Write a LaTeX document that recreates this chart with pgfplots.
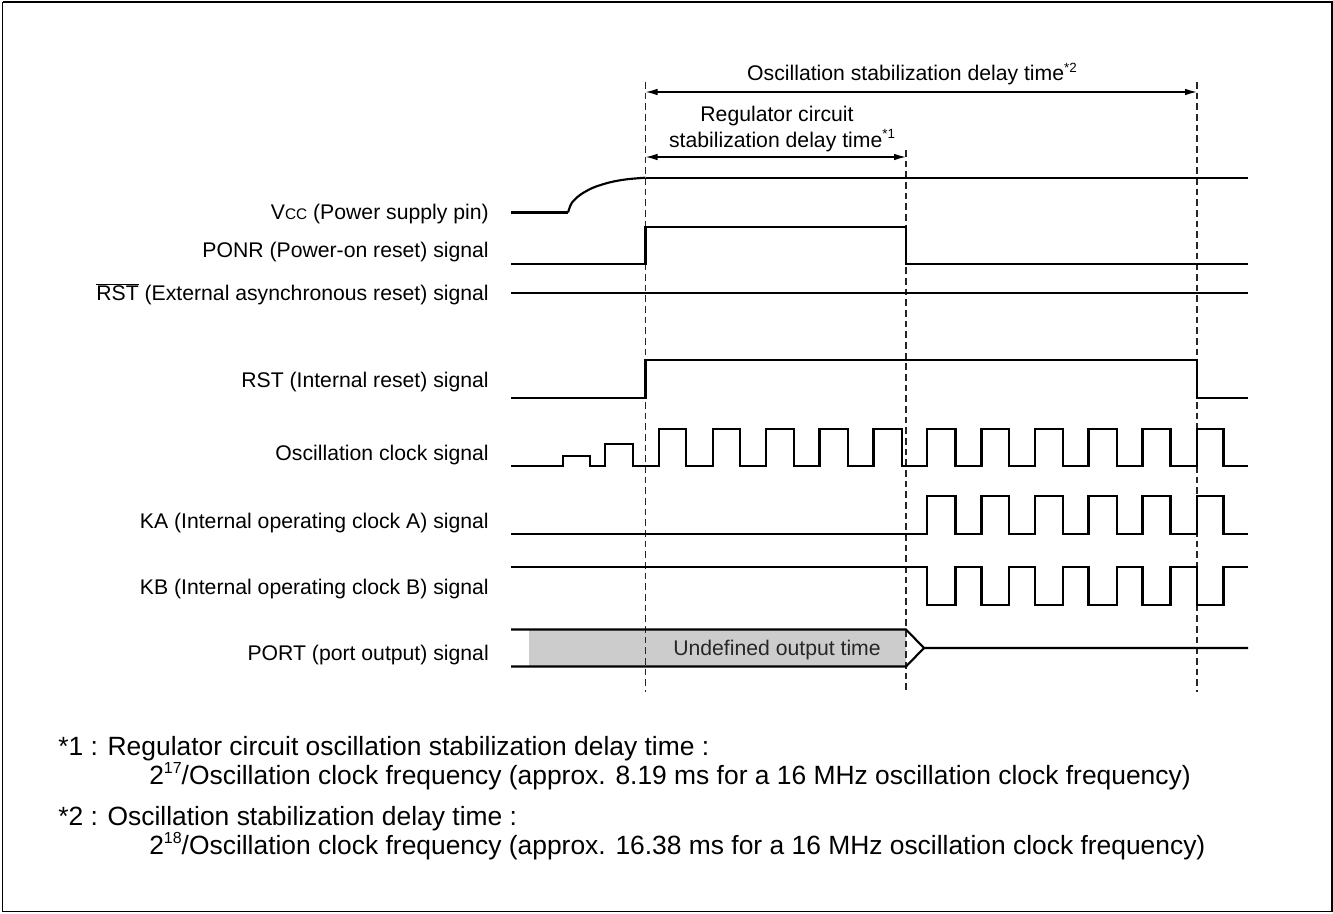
\documentclass[border=0pt]{standalone}
\usepackage{pgfplots}
\pgfplotsset{compat=1.18}
\usepackage{fontspec}
\setmainfont{Liberation Sans}
\usetikzlibrary{arrows.meta}
\newcommand{\sig}{\fontsize{15.9}{19}\selectfont}
\newcommand{\foot}{\fontsize{19.8}{23}\selectfont}
\newcommand{\sups}[1]{\raisebox{0.42em}{\fontsize{10}{11}\selectfont #1}}
\newcommand{\fsups}[1]{\raisebox{0.40em}{\fontsize{12}{13}\selectfont #1}}
\begin{document}
\begin{tikzpicture}
\begin{axis}[
  width=999.75pt, height=684.75pt, scale only axis,
  xmin=0, xmax=1333, ymin=0, ymax=913, y dir=reverse,
  hide axis, clip=false,
]
% frame
\addplot[black, line width=1.3pt, mark=none] coordinates {(2.5,2) (1332,2) (1332,911.5) (2.5,911.5) (2.5,2)};
% undefined output fill
\addplot[fill=black!20, draw=none, mark=none] coordinates {(529,629) (906,629) (906,667) (529,667)};
% dashed reference lines
\addplot[black!85, line width=0.85pt, dash pattern=on 5pt off 3pt, mark=none] coordinates {(645.5,82) (645.5,692)};
\addplot[black!85, line width=0.85pt, dash pattern=on 5pt off 3pt, mark=none] coordinates {(906,150) (906,692)};
\addplot[black!85, line width=0.85pt, dash pattern=on 5pt off 3pt, mark=none] coordinates {(1197,82) (1197,692)};
% dimension arrows
\addplot[black, line width=1.1pt, {Latex[length=9pt,width=5pt]}-{Latex[length=9pt,width=5pt]}, mark=none] coordinates {(645.5,92) (1197,92)};
\addplot[black, line width=1.1pt, {Latex[length=9pt,width=5pt]}-{Latex[length=9pt,width=5pt]}, mark=none] coordinates {(645.5,157) (906,157)};
% Vcc
\addplot[black, line width=1.6pt, mark=none] coordinates {(511,212.5) (568,212.5)};
\addplot[black, line width=1.6pt, mark=none, smooth] coordinates {(568,212.5) (571.7,203) (580,195) (593,187.7) (610,182.3) (626.7,179.3) (645.5,177.7)};
\addplot[black, line width=1.6pt, mark=none] coordinates {(645.5,177.7) (1248,177.7)};
% PONR
\addplot[black, line width=1.6pt, mark=none] coordinates {(511,264) (645.5,264) (645.5,227) (906,227) (906,264) (1248,264)};
% RST bar
\addplot[black, line width=1.6pt, mark=none] coordinates {(511,293) (1248,293)};
% RST internal
\addplot[black, line width=1.6pt, mark=none] coordinates {(511,398) (645.5,398) (645.5,360) (1197,360) (1197,398) (1248,398)};
% Oscillation clock
\addplot[black, line width=1.6pt, mark=none] coordinates {
(511,466) (563,466) (563,456) (590,456) (590,466) (605,466) (605,444) (633,444) (633,466)
(659,466) (659,429) (686,429) (686,466)
(713,466) (713,429) (740,429) (740,466)
(766,466) (766,429) (794,429) (794,466)
(819.5,466) (819.5,429) (848,429) (848,466)
(873.5,466) (873.5,429) (901.7,429) (901.7,466)
(927,466) (927,429) (955.5,429) (955.5,466)
(981.5,466) (981.5,429) (1009,429) (1009,466)
(1035,466) (1035,429) (1062.7,429) (1062.7,466)
(1088.5,466) (1088.5,429) (1116.7,429) (1116.7,466)
(1142.5,466) (1142.5,429) (1170.5,429) (1170.5,466)
(1197,466) (1197,429) (1223.5,429) (1223.5,466) (1248,466)};
% KA
\addplot[black, line width=1.6pt, mark=none] coordinates {
(511,534) (927,534) (927,496) (955.5,496) (955.5,534)
(981.5,534) (981.5,496) (1009,496) (1009,534)
(1035,534) (1035,496) (1062.7,496) (1062.7,534)
(1088.5,534) (1088.5,496) (1116.7,496) (1116.7,534)
(1142.5,534) (1142.5,496) (1170.5,496) (1170.5,534)
(1197,534) (1197,496) (1223.5,496) (1223.5,534) (1248,534)};
% KB
\addplot[black, line width=1.6pt, mark=none] coordinates {
(511,567) (927,567) (927,605) (955.5,605) (955.5,567)
(981.5,567) (981.5,605) (1009,605) (1009,567)
(1035,567) (1035,605) (1062.7,605) (1062.7,567)
(1088.5,567) (1088.5,605) (1116.7,605) (1116.7,567)
(1142.5,567) (1142.5,605) (1170.5,605) (1170.5,567)
(1197,567) (1197,605) (1223.5,605) (1223.5,567) (1248,567)};
% PORT
\addplot[black, line width=1.6pt, mark=none] coordinates {(511,629.5) (906,629.5) (924,648) (1248,648)};
\addplot[black, line width=1.6pt, mark=none] coordinates {(511,666.5) (906,666.5) (924,648)};
% labels
\node[anchor=base east, inner sep=0pt] at (axis cs:489,219.5) {\sig V{\fontsize{11.5}{13}\selectfont CC} (Power supply pin)};
\node[anchor=base east, inner sep=0pt] at (axis cs:489,257.5) {\sig PONR (Power-on reset) signal};
\node[anchor=base east, inner sep=0pt] at (axis cs:489,300.5) {\sig $\overline{\mbox{\sig RST}}$ (External asynchronous reset) signal};
\node[anchor=base east, inner sep=0pt] at (axis cs:489,387.5) {\sig RST (Internal reset) signal};
\node[anchor=base east, inner sep=0pt] at (axis cs:489,460.5) {\sig Oscillation clock signal};
\node[anchor=base east, inner sep=0pt] at (axis cs:489,528.5) {\sig KA (Internal operating clock A) signal};
\node[anchor=base east, inner sep=0pt] at (axis cs:489,594.5) {\sig KB (Internal operating clock B) signal};
\node[anchor=base east, inner sep=0pt] at (axis cs:489,660.5) {\sig PORT (port output) signal};
\node[anchor=base, inner sep=0pt, text=black!85] at (axis cs:777,655.5) {\sig Undefined output time};
% top texts
\node[anchor=base, inner sep=0pt] at (axis cs:912,81) {\sig Oscillation stabilization delay time\sups{*2}};
\node[anchor=base, inner sep=0pt] at (axis cs:777,122) {\sig Regulator circuit};
\node[anchor=base, inner sep=0pt] at (axis cs:782,147) {\sig stabilization delay time\sups{*1}};
% footnotes
\node[anchor=base west, inner sep=0pt] at (axis cs:58,755) {\foot *1 : Regulator circuit oscillation stabilization delay time :};
\node[anchor=base west, inner sep=0pt] at (axis cs:149,784) {\foot 2\fsups{17}/Oscillation clock frequency (approx. 8.19 ms for a 16 MHz oscillation clock frequency)};
\node[anchor=base west, inner sep=0pt] at (axis cs:58,825) {\foot *2 : Oscillation stabilization delay time :};
\node[anchor=base west, inner sep=0pt] at (axis cs:149,854) {\foot 2\fsups{18}/Oscillation clock frequency (approx. 16.38 ms for a 16 MHz oscillation clock frequency)};
\end{axis}
\pgfresetboundingbox
\path (current axis.south west) rectangle (current axis.north east);
\end{tikzpicture}
\end{document}
